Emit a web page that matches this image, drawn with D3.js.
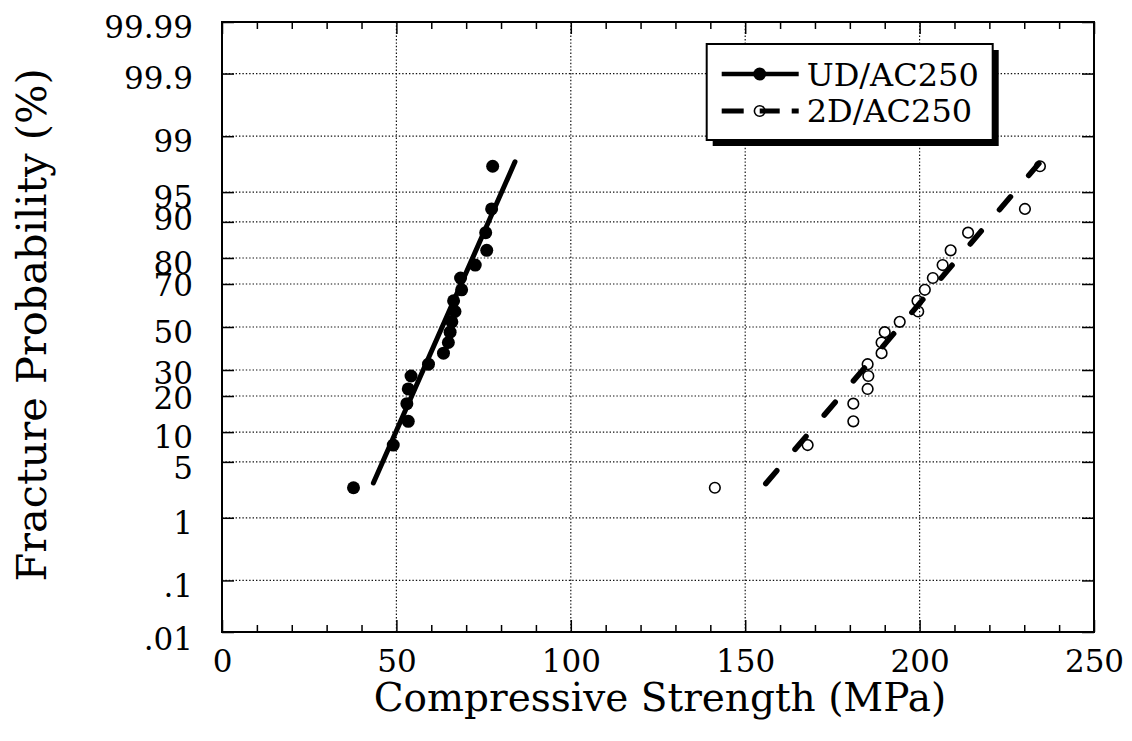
<!DOCTYPE html>
<html>
<head>
<meta charset="utf-8">
<script src="https://cdn.jsdelivr.net/npm/d3@7"></script>
<style>
    body { margin: 0; background: #fff; }
    text { font-family: "DejaVu Serif", "Liberation Serif", serif; fill: #000; }
</style>
</head>
<body>
<svg id="chart" width="1132" height="741"></svg>
<script>
// ---- data ----
var probTicks = [0.01, 0.1, 1, 5, 10, 20, 30, 50, 70, 80, 90, 95, 99, 99.9, 99.99];
var probLabels = [".01", ".1", "1", "5", "10", "20", "30", "50", "70", "80", "90", "95", "99", "99.9", "99.99"];
var strengthTicks = [0, 50, 100, 150, 200, 250];
var strengthMinor = [10, 20, 30, 40, 60, 70, 80, 90, 110, 120, 130, 140, 160, 170, 180, 190, 210, 220, 230, 240];

// plotting positions (%) shared by both series (n = 20)
var rankProb = [2.5, 7.5, 12.5, 17.5, 22.5, 27.5, 32.5, 37.5, 42.5, 47.5,
                52.5, 57.5, 62.5, 67.5, 72.5, 77.5, 82.5, 87.5, 92.5, 97.5];
var udStrength = [37.7, 49.1, 53.4, 53.0, 53.4, 54.2, 59.2, 63.5, 64.9, 65.4,
                  65.9, 66.8, 66.4, 68.7, 68.4, 72.6, 75.9, 75.6, 77.3, 77.6];
var twoDStrength = [141.3, 167.9, 181.0, 181.0, 185.1, 185.3, 185.1, 189.1, 189.1, 190.0,
                    194.3, 199.6, 199.4, 201.5, 203.8, 206.6, 208.9, 213.9, 230.2, 234.5];

// fitted lines (end points)
var udFitStrength = [43.4, 84.0];
var udFitProb = [2.86, 97.8];
var twoDFitStrength = [155.9, 234.2];
var twoDFitProb = [2.81, 97.69];

var seriesNames = ["UD/AC250", "2D/AC250"];

// inverse normal cdf (Acklam)
function probit(p) {
    var a = [-3.969683028665376e+01, 2.209460984245205e+02, -2.759285104469687e+02, 1.383577518672690e+02, -3.066479806614716e+01, 2.506628277459239e+00];
    var b = [-5.447609879822406e+01, 1.615858368580409e+02, -1.556989798598866e+02, 6.680131188771972e+01, -1.328068155833054e+01];
    var c = [-7.784894002430293e-03, -3.223964580411365e-01, -2.400758277161838e+00, -2.549671681998449e+00, 4.374664141464968e+00, 2.938163982698783e+00];
    var d = [7.784695709041462e-03, 3.224671290700398e-01, 2.445134137142996e+00, 3.754408661907416e+00];
    var plow = 0.02425, q, r;
    if (p < plow) {
        q = Math.sqrt(-2 * Math.log(p));
        return (((((c[0]*q+c[1])*q+c[2])*q+c[3])*q+c[4])*q+c[5]) / ((((d[0]*q+d[1])*q+d[2])*q+d[3])*q+1);
    }
    if (p > 1 - plow) {
        q = Math.sqrt(-2 * Math.log(1 - p));
        return -(((((c[0]*q+c[1])*q+c[2])*q+c[3])*q+c[4])*q+c[5]) / ((((d[0]*q+d[1])*q+d[2])*q+d[3])*q+1);
    }
    q = p - 0.5; r = q * q;
    return (((((a[0]*r+a[1])*r+a[2])*r+a[3])*r+a[4])*r+a[5])*q / (((((b[0]*r+b[1])*r+b[2])*r+b[3])*r+b[4])*r+1);
}

var margin = { top: 22, right: 38, bottom: 109, left: 222 },
    width = 1132 - margin.left - margin.right,
    height = 741 - margin.top - margin.bottom;

var svg = d3.select("#chart")
    .append("g")
    .attr("transform", "translate(" + margin.left + "," + margin.top + ")");

// scales
var x = d3.scaleLinear().domain([0, 250]).range([0, width]);
var yz = d3.scaleLinear()
    .domain([probit(probTicks[0] / 100), probit(probTicks[probTicks.length - 1] / 100)])
    .range([height, 0]);
function y(pct) { return yz(probit(pct / 100)); }

var dotted = "1.4,2";

// gridlines
svg.append("g").selectAll("line")
    .data(probTicks.slice(1, -1))
    .enter().append("line")
    .attr("x1", 0).attr("x2", width)
    .attr("y1", d => y(d)).attr("y2", d => y(d))
    .attr("stroke", "#111").attr("stroke-width", 1.2)
    .attr("stroke-dasharray", dotted);

svg.append("g").selectAll("line")
    .data(strengthTicks.slice(1, -1))
    .enter().append("line")
    .attr("y1", 0).attr("y2", height)
    .attr("x1", d => x(d)).attr("x2", d => x(d))
    .attr("stroke", "#111").attr("stroke-width", 1.2)
    .attr("stroke-dasharray", dotted);

// axes
var bottomAxis = svg.append("g")
    .attr("transform", "translate(0," + height + ")")
    .call(d3.axisBottom(x).tickValues(strengthTicks).tickSizeInner(-12).tickSizeOuter(0).tickPadding(17));
svg.append("g")
    .attr("transform", "translate(0," + height + ")")
    .call(d3.axisBottom(x).tickValues(strengthMinor).tickSizeInner(-7).tickSizeOuter(0).tickFormat(""));
svg.append("g")
    .call(d3.axisTop(x).tickValues(strengthTicks).tickSizeInner(-12).tickSizeOuter(0).tickFormat(""));
svg.append("g")
    .call(d3.axisTop(x).tickValues(strengthMinor).tickSizeInner(-7).tickSizeOuter(0).tickFormat(""));

var probZ = probTicks.map(p => probit(p / 100));
var leftAxis = svg.append("g")
    .call(d3.axisLeft(yz).tickValues(probZ).tickSizeInner(-12).tickSizeOuter(0).tickPadding(29)
        .tickFormat((d, i) => probLabels[i]));
svg.append("g")
    .attr("transform", "translate(" + width + ",0)")
    .call(d3.axisRight(yz).tickValues(probZ).tickSizeInner(-12).tickSizeOuter(0).tickFormat(""));

svg.selectAll(".domain").remove();
svg.selectAll(".tick line").attr("stroke", "#000").attr("stroke-width", 1.5);

bottomAxis.selectAll("text")
    .style("font-size", "31px")
    .attr("dy", "0.73em");

// crowded probability labels sit a little off their gridlines
var labelNudge = { "90": -8, "70": -4, "30": -2, "20": -3, "5": 1, "1": 1, ".1": 1, ".01": 2 };
leftAxis.selectAll("text")
    .style("font-size", "31px")
    .attr("dy", "0.36em")
    .attr("y", (d, i) => 4 + (labelNudge[probLabels[i]] || 0));

// frame
svg.append("rect")
    .attr("width", width).attr("height", height)
    .attr("fill", "none").attr("stroke", "#000").attr("stroke-width", 2);

// fitted lines
var fitLine = d3.line().x(d => x(d[0])).y(d => y(d[1]));
svg.append("path")
    .datum(d3.zip(udFitStrength, udFitProb))
    .attr("d", fitLine)
    .attr("fill", "none").attr("stroke", "#000").attr("stroke-width", 5)
    .attr("stroke-linecap", "round");
svg.append("path")
    .datum(d3.zip(twoDFitStrength, twoDFitProb))
    .attr("d", fitLine)
    .attr("fill", "none").attr("stroke", "#000").attr("stroke-width", 5.5)
    .attr("stroke-linecap", "round")
    .attr("stroke-dasharray", "17,28");

// points
svg.append("g").selectAll("circle")
    .data(d3.zip(udStrength, rankProb))
    .enter().append("circle")
    .attr("cx", d => x(d[0])).attr("cy", d => y(d[1]))
    .attr("r", 6.5).attr("fill", "#000");
svg.append("g").selectAll("circle")
    .data(d3.zip(twoDStrength, rankProb))
    .enter().append("circle")
    .attr("cx", d => x(d[0])).attr("cy", d => y(d[1]))
    .attr("r", 5.3).attr("fill", "none").attr("stroke", "#000").attr("stroke-width", 1.6);

// legend
var legend = svg.append("g").attr("transform", "translate(" + (706.7 - margin.left) + "," + (44 - margin.top) + ")");
legend.append("rect").attr("x", 6).attr("y", 6).attr("width", 286).attr("height", 96).attr("fill", "#000");
legend.append("rect").attr("width", 286).attr("height", 96)
    .attr("fill", "#fff").attr("stroke", "#000").attr("stroke-width", 2);

legend.append("line").attr("x1", 15).attr("x2", 92).attr("y1", 30).attr("y2", 30)
    .attr("stroke", "#000").attr("stroke-width", 4.5);
legend.append("circle").attr("cx", 53).attr("cy", 30).attr("r", 6.5).attr("fill", "#000");
legend.append("line").attr("x1", 15).attr("x2", 92).attr("y1", 67).attr("y2", 67)
    .attr("stroke", "#000").attr("stroke-width", 5)
    .attr("stroke-dasharray", "22,16,20,12,10");
legend.append("circle").attr("cx", 53).attr("cy", 67).attr("r", 5.3)
    .attr("fill", "none").attr("stroke", "#000").attr("stroke-width", 1.6);

legend.selectAll(".legend-text")
    .data(seriesNames)
    .enter().append("text")
    .attr("class", "legend-text")
    .attr("x", 100)
    .attr("y", (d, i) => 42 + i * 36)
    .style("font-size", "32px")
    .text(d => d);

// axis titles
svg.append("text")
    .attr("x", width / 2 + 2)
    .attr("y", height + 79)
    .attr("text-anchor", "middle")
    .style("font-size", "39px")
    .text("Compressive Strength (MPa)");

svg.append("text")
    .attr("transform", "translate(" + (46 - margin.left) + "," + (325 - margin.top) + ") rotate(-90)")
    .attr("text-anchor", "middle")
    .style("font-size", "41.5px")
    .text("Fracture Probability (%)");
</script>
</body>
</html>
